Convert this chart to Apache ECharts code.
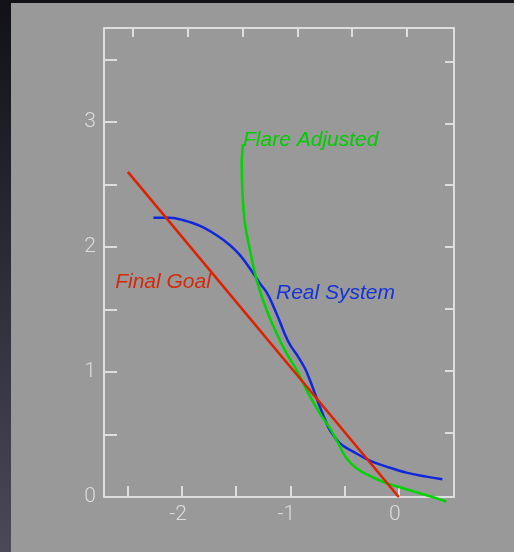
<!DOCTYPE html>
<html>
<head>
<meta charset="utf-8">
<script src="https://cdn.jsdelivr.net/npm/echarts@6/dist/echarts.min.js"></script>
<style>
  html, body { margin: 0; padding: 0; width: 514px; height: 552px; overflow: hidden;
    background: linear-gradient(to bottom, #111117 0%, #2a2a36 45%, #4b4859 100%); }
  #chart { position: absolute; left: 0; top: 0; width: 514px; height: 552px; }
</style>
</head>
<body>
<div id="chart"></div>
<script>
// ---- data ----
const xTickValues = [-2.5, -2, -1.5, -1, -0.5, 0];
const xLabelValues = [-2, -1, 0];
const yTickValues = [0.5, 1, 1.5, 2, 2.5, 3, 3.5];
const yLabelValues = [0, 1, 2, 3];

const finalGoal = [[-2.5, 2.6], [0, 0]];

const realSystem = [
  [-2.264, 2.232], [-2.11, 2.232], [-1.988, 2.213], [-1.834, 2.168], [-1.68, 2.093],
  [-1.557, 2.013], [-1.465, 1.934], [-1.373, 1.827], [-1.281, 1.708], [-1.219, 1.636],
  [-1.158, 1.528], [-1.096, 1.4], [-1.05, 1.3], [-1.004, 1.218], [-0.928, 1.121],
  [-0.866, 1.029], [-0.82, 0.935], [-0.774, 0.829], [-0.728, 0.722], [-0.666, 0.589],
  [-0.636, 0.536], [-0.544, 0.43], [-0.421, 0.363], [-0.267, 0.291], [-0.113, 0.243],
  [0.071, 0.195], [0.256, 0.163], [0.403, 0.142]
];

const flareAdjusted = [
  [-1.437, 2.82], [-1.449, 2.666], [-1.44, 2.399], [-1.419, 2.187], [-1.373, 1.974],
  [-1.311, 1.734], [-1.219, 1.495], [-1.127, 1.308], [-1.035, 1.149], [-0.942, 1.015],
  [-0.85, 0.855], [-0.728, 0.669], [-0.636, 0.55], [-0.559, 0.43], [-0.482, 0.31],
  [-0.39, 0.23], [-0.267, 0.169], [-0.113, 0.11], [0.01, 0.078], [0.194, 0.03],
  [0.348, -0.01], [0.44, -0.037]
];

const seriesNames = ['Real System', 'Flare Adjusted', 'Final Goal'];
// label anchors in data space: [x, y]
const labelAnchors = {
  'Flare Adjusted': [-1.437, 2.85],
  'Final Goal': [-2.617, 1.715],
  'Real System': [-1.133, 1.63]
};

// ---- chart ----
const AXIS = '#dedede';
const C_RED = '#dc2200', C_BLUE = '#1028dc', C_GREEN = '#00d400';
const chart = echarts.init(document.getElementById('chart'), null, { renderer: 'canvas' });

const axisLine = { show: true, onZero: false, lineStyle: { color: AXIS, width: 2 } };

chart.setOption({
  backgroundColor: 'transparent',
  animation: false,
  grid: { left: 104, right: 60, top: 28, bottom: 55, containLabel: false },
  xAxis: [
    {
      type: 'value', position: 'bottom', min: -2.72, max: 0.51,
      splitLine: { show: false }, axisLine: axisLine,
      axisTick: { show: true, inside: true, length: 11, customValues: xTickValues,
        lineStyle: { color: AXIS, width: 2 } },
      axisLabel: { show: true, customValues: xLabelValues, color: '#dcdcdc',
        fontSize: 21, fontFamily: 'Roboto', fontWeight: 300, margin: 7,
        padding: [0, 8, 0, 0], formatter: v => String(v) }
    },
    {
      type: 'value', position: 'top', min: -2.765, max: 0.429,
      splitLine: { show: false }, axisLine: axisLine,
      axisTick: { show: true, inside: true, length: 9, customValues: xTickValues,
        lineStyle: { color: AXIS, width: 2 } },
      axisLabel: { show: false }
    }
  ],
  yAxis: [
    {
      type: 'value', position: 'left', min: 0, max: 3.75,
      splitLine: { show: false }, axisLine: axisLine,
      axisTick: { show: true, inside: true, length: 13, customValues: yTickValues,
        lineStyle: { color: AXIS, width: 2 } },
      axisLabel: { show: true, customValues: yLabelValues, color: '#dcdcdc',
        fontSize: 21, fontFamily: 'Roboto', fontWeight: 300, margin: 8,
        formatter: v => String(v) }
    },
    {
      type: 'value', position: 'right', min: -0.02, max: 3.77,
      splitLine: { show: false }, axisLine: axisLine,
      axisTick: { show: true, inside: true, length: 9, customValues: yTickValues,
        lineStyle: { color: AXIS, width: 2 } },
      axisLabel: { show: false }
    }
  ],
  series: [
    { name: seriesNames[0], type: 'line', data: realSystem, showSymbol: false, smooth: 0.4,
      clip: false, lineStyle: { color: C_BLUE, width: 2.5 }, z: 3 },
    { name: seriesNames[1], type: 'line', data: flareAdjusted, showSymbol: false, smooth: 0.35,
      clip: false, lineStyle: { color: C_GREEN, width: 2.5 }, z: 4 },
    { name: seriesNames[2], type: 'line', data: finalGoal, showSymbol: false,
      clip: false, lineStyle: { color: C_RED, width: 2.5 }, z: 5 }
  ]
});

const labelColors = { 'Flare Adjusted': '#00cc00', 'Final Goal': '#d42a0c', 'Real System': '#1633d4' };
const texts = seriesNames.map(name => {
  const p = chart.convertToPixel({ xAxisIndex: 0, yAxisIndex: 0 }, labelAnchors[name]);
  return {
    type: 'text', z: 20, silent: true, x: p[0], y: p[1],
    style: { text: name, fill: labelColors[name], font: 'italic 21px "Liberation Sans", Arial, sans-serif',
      textAlign: 'left', textVerticalAlign: 'middle' }
  };
});
chart.setOption({ graphic: [{
    type: 'rect', z: -10, silent: true,
    shape: { x: 11, y: 3, width: 503, height: 549 },
    style: { fill: '#999999' }
  }].concat(texts) });
</script>
</body>
</html>
